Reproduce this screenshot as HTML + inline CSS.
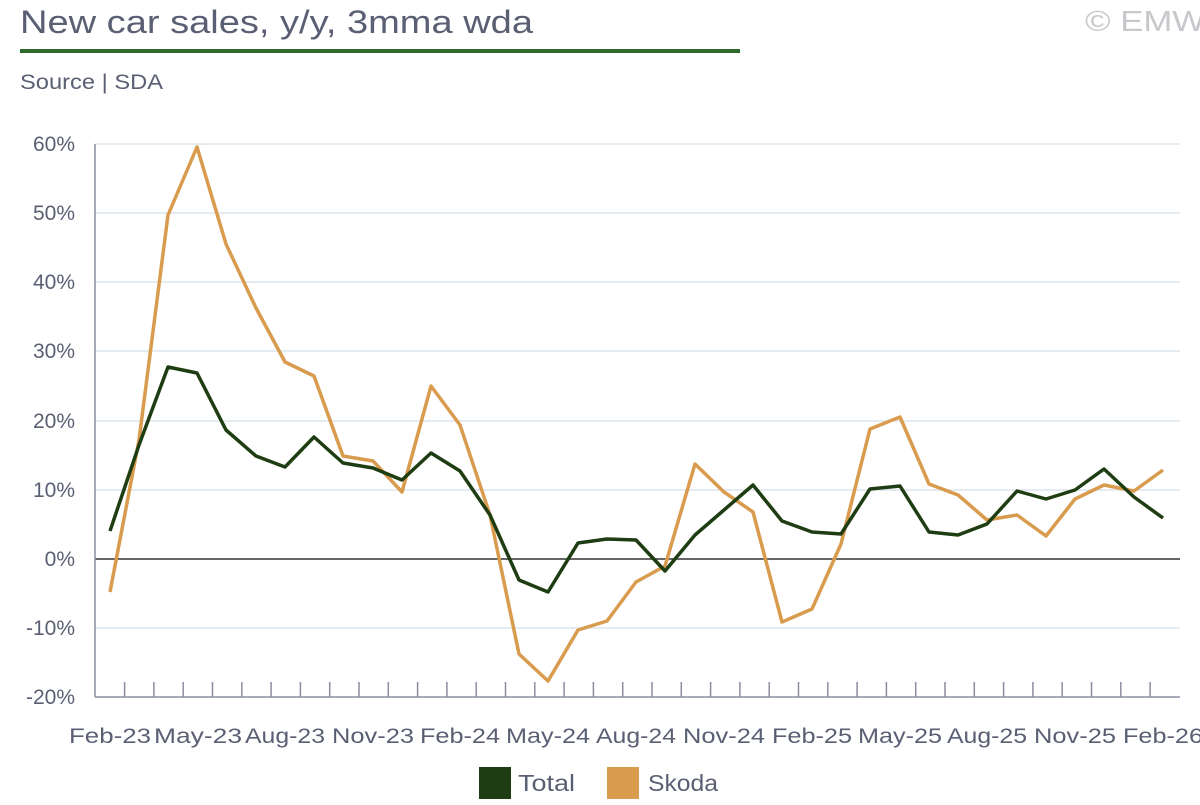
<!DOCTYPE html>
<html><head><meta charset="utf-8"><style>
body{margin:0;background:#fff;width:1200px;height:800px;overflow:hidden;font-family:"Liberation Sans",sans-serif}
</style></head><body>
<svg width="1200" height="800" xmlns="http://www.w3.org/2000/svg" font-family="Liberation Sans, sans-serif">
<text x="20" y="33" font-size="32" fill="#5a5f73" textLength="513" lengthAdjust="spacingAndGlyphs">New car sales, y/y, 3mma wda</text>
<rect x="20" y="49" width="720" height="4" fill="#2e6b2a"/>
<text x="1085" y="31" font-size="29" fill="#c8c8cc" textLength="120" lengthAdjust="spacingAndGlyphs">© EMW</text>
<text x="20" y="89" font-size="21" fill="#5a5f73" textLength="143" lengthAdjust="spacingAndGlyphs">Source | SDA</text>
<g stroke="#dce5ee" stroke-width="1.5">
<line x1="95" y1="144" x2="1180" y2="144"/><line x1="95" y1="213" x2="1180" y2="213"/>
<line x1="95" y1="282" x2="1180" y2="282"/><line x1="95" y1="351" x2="1180" y2="351"/>
<line x1="95" y1="421" x2="1180" y2="421"/><line x1="95" y1="490" x2="1180" y2="490"/>
<line x1="95" y1="628" x2="1180" y2="628"/>
</g>
<line x1="95" y1="559" x2="1180" y2="559" stroke="#333" stroke-width="1.5"/>
<line x1="95" y1="144" x2="95" y2="697" stroke="#8a8ea0" stroke-width="1.5"/>
<line x1="95" y1="697" x2="1180" y2="697" stroke="#8a8ea0" stroke-width="1.5"/>
<g id="ticks" stroke="#8a8ea0" stroke-width="1.5"></g>
<g font-size="21" fill="#5a5f73" text-anchor="end">
<text x="75" y="151">60%</text><text x="75" y="220">50%</text><text x="75" y="289">40%</text>
<text x="75" y="358">30%</text><text x="75" y="428">20%</text><text x="75" y="497">10%</text>
<text x="75" y="566">0%</text><text x="75" y="635">-10%</text><text x="75" y="704">-20%</text>
</g>
<g font-size="21" fill="#5a5f73" text-anchor="middle">
<text x="110" y="743" textLength="82" lengthAdjust="spacingAndGlyphs">Feb-23</text>
<text x="198" y="743" textLength="88" lengthAdjust="spacingAndGlyphs">May-23</text>
<text x="285" y="743" textLength="80" lengthAdjust="spacingAndGlyphs">Aug-23</text>
<text x="373" y="743" textLength="82" lengthAdjust="spacingAndGlyphs">Nov-23</text>
<text x="460" y="743" textLength="80" lengthAdjust="spacingAndGlyphs">Feb-24</text>
<text x="548" y="743" textLength="84" lengthAdjust="spacingAndGlyphs">May-24</text>
<text x="636" y="743" textLength="80" lengthAdjust="spacingAndGlyphs">Aug-24</text>
<text x="724" y="743" textLength="82" lengthAdjust="spacingAndGlyphs">Nov-24</text>
<text x="812" y="743" textLength="80" lengthAdjust="spacingAndGlyphs">Feb-25</text>
<text x="900" y="743" textLength="84" lengthAdjust="spacingAndGlyphs">May-25</text>
<text x="987" y="743" textLength="80" lengthAdjust="spacingAndGlyphs">Aug-25</text>
<text x="1075" y="743" textLength="82" lengthAdjust="spacingAndGlyphs">Nov-25</text>
<text x="1163" y="743" textLength="80" lengthAdjust="spacingAndGlyphs">Feb-26</text>
</g>
<polyline fill="none" stroke="#d99b4e" stroke-width="3.5" stroke-linejoin="round" points="110,592 139,440 168,215 197,147 226,244 256,308 285,362 314,376 343,456 373,461 402,492 431,386 460,425 490,515 519,654 548,681 578,630 607,621 636,582 665,566 695,464 724,492 753,512 782,622 812,609 841,544 870,429 900,417 929,484 958,495 987,520 1017,515 1046,536 1075,499 1104,485 1134,491 1163,470"/>
<polyline fill="none" stroke="#1f3d12" stroke-width="3.5" stroke-linejoin="round" points="110,531 139,445 168,367 197,373 226,430 256,456 285,467 314,437 343,463 373,468 402,480 431,453 460,471 490,515 519,580 548,592 578,543 607,539 636,540 665,571 695,535 724,510 753,485 782,521 812,532 841,534 870,489 900,486 929,532 958,535 987,524 1017,491 1046,499 1075,490 1104,469 1134,497 1163,518"/>
<rect x="479" y="767" width="32" height="32" fill="#1f3d12"/>
<text x="518" y="791" font-size="23" fill="#5a5f73" textLength="57" lengthAdjust="spacingAndGlyphs">Total</text>
<rect x="607" y="767" width="32" height="32" fill="#d99b4e"/>
<text x="648" y="791" font-size="23" fill="#5a5f73" textLength="70" lengthAdjust="spacingAndGlyphs">Skoda</text>
</svg>
<script>
var g=document.getElementById('ticks'),s='';
for(var i=0;i<36;i++){var x=124.6+i*29.3;s+='<line x1="'+x+'" y1="682" x2="'+x+'" y2="697"/>';}
g.innerHTML=s;
</script>
</body></html>
